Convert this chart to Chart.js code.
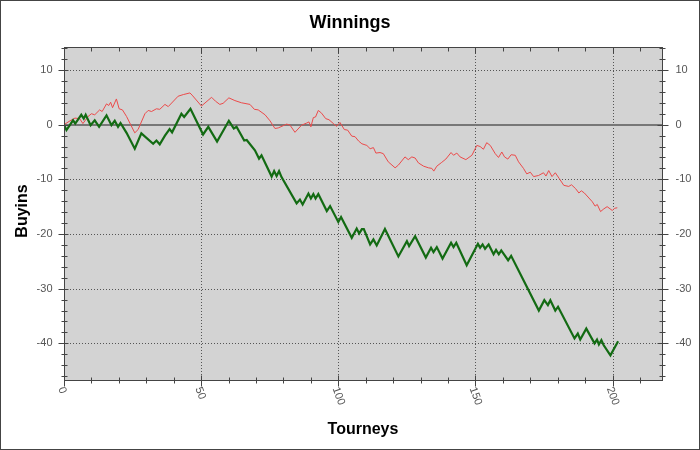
<!DOCTYPE html>
<html>
<head>
<meta charset="utf-8">
<script src="https://cdn.jsdelivr.net/npm/chart.js@4.4.0/dist/chart.umd.min.js"></script>
<style>
  html, body { margin: 0; padding: 0; background: #fff; }
</style>
</head>
<body>
<canvas id="chart" width="700" height="450"></canvas>
<script>
// vertices (tourney, buyins)
const greenTourneys = [0, 0.9, 3.3, 4.1, 6.3, 7.2, 7.9, 9.7, 11.2, 12.8, 15.5, 17.3, 18.5, 19.7, 20.6, 22.8, 25.8, 28.2, 32.5, 33.7, 34.9, 36.8, 38.5, 39.4, 42.8, 43.8, 46.1, 50.7, 52.6, 55.8, 60.1, 61.9, 62.9, 65.7, 66.6, 69.6, 71.1, 72.0, 75.7, 76.6, 77.5, 78.4, 79.3, 84.8, 86.0, 87.0, 89.1, 90.0, 90.9, 91.7, 92.7, 95.8, 97.0, 100.0, 101.0, 104.9, 106.7, 107.6, 108.6, 109.3, 111.6, 112.8, 114.0, 117.0, 121.9, 125.0, 125.8, 128.0, 131.9, 133.8, 134.7, 135.9, 138.0, 141.1, 142.0, 143.0, 146.8, 150.9, 151.7, 152.6, 153.5, 154.8, 156.6, 157.5, 158.5, 159.4, 161.9, 163.0, 173.1, 175.1, 176.4, 177.3, 179.1, 180.1, 186.1, 187.3, 188.2, 190.4, 193.4, 194.3, 195.0, 195.9, 196.7, 199.2, 202.0];
const greenBuyins = [0, -1.0, 0.8, 0.2, 1.8, 1.1, 1.8, -0.1, 0.8, -0.4, 1.7, -0.1, 0.7, -0.4, 0.3, -1.5, -4.4, -1.6, -3.5, -2.9, -3.6, -2.0, -0.8, -1.4, 2.0, 1.4, 2.9, -1.8, -0.4, -3.1, 0.7, -0.7, -0.4, -2.9, -2.8, -4.7, -6.2, -5.6, -9.5, -8.5, -9.4, -8.5, -9.6, -14.4, -13.7, -14.6, -12.6, -13.5, -12.7, -13.5, -12.7, -15.8, -14.9, -17.8, -16.9, -20.7, -19.0, -19.9, -19.1, -19.1, -21.9, -21.0, -22.1, -19.1, -24.1, -21.3, -22.2, -20.4, -24.3, -22.5, -23.3, -22.4, -24.5, -21.6, -22.4, -21.6, -25.7, -21.8, -22.5, -21.9, -22.7, -21.9, -23.7, -22.9, -23.7, -23.0, -24.8, -24.0, -34.0, -32.1, -33.0, -32.1, -34.0, -33.3, -39.1, -38.2, -39.3, -37.3, -40.0, -39.3, -40.2, -39.4, -40.3, -42.2, -39.6];

const redTourneys = [0, 2.2, 4.0, 5.7, 6.9, 8.8, 10.0, 11.2, 13.0, 13.9, 15.5, 16.3, 17.0, 17.7, 19.1, 20.1, 21.3, 22.8, 25.8, 27.0, 29.5, 30.7, 31.9, 33.7, 34.9, 36.8, 38.0, 41.6, 43.5, 45.9, 46.7, 50.1, 53.8, 55.2, 56.8, 58.0, 60.1, 62.3, 64.7, 67.8, 69.4, 70.8, 73.3, 75.1, 76.9, 78.1, 81.2, 82.4, 84.2, 86.6, 88.5, 89.3, 90.0, 90.9, 91.7, 92.7, 93.9, 95.4, 96.6, 98.2, 99.4, 100.6, 102.2, 103.4, 104.9, 106.1, 107.4, 108.6, 110.4, 111.6, 112.8, 113.7, 115.2, 116.4, 118.2, 120.7, 121.9, 124.3, 125.5, 126.8, 128.0, 129.2, 131.1, 132.9, 134.1, 134.8, 135.9, 137.7, 139.2, 141.1, 142.0, 143.2, 144.4, 146.5, 148.7, 150.5, 151.7, 152.9, 154.1, 155.4, 157.2, 158.4, 159.6, 160.6, 161.8, 163.0, 164.5, 165.7, 167.5, 168.7, 170.0, 171.2, 173.0, 174.8, 175.7, 176.7, 177.9, 179.1, 180.6, 182.2, 184.0, 185.0, 186.5, 187.7, 188.6, 189.7, 192.6, 193.6, 194.4, 195.6, 196.8, 198.0, 199.9, 200.7, 201.7];
const redBuyins = [0, 0.7, 1.2, 1.1, 0.2, 1.5, 2.0, 1.8, 2.7, 2.4, 3.8, 3.5, 4.1, 3.1, 4.7, 2.9, 2.7, 1.5, -1.5, -0.9, 2.0, 2.6, 2.4, 2.9, 2.8, 3.7, 3.3, 5.2, 5.5, 5.8, 5.4, 3.4, 5.0, 4.3, 3.7, 3.9, 4.9, 4.4, 4.0, 3.7, 2.8, 2.7, 1.8, 0.7, -0.7, -0.6, 0.1, -0.1, -1.4, -0.1, 0.3, 0.5, -0.4, 1.3, 1.4, 2.6, 2.1, 1.1, 0.9, 0.2, -0.3, 0.4, -0.9, -1.0, -2.1, -2.2, -3.0, -3.5, -3.8, -4.4, -4.2, -5.2, -5.1, -5.3, -6.8, -7.9, -7.4, -5.9, -6.4, -5.9, -6.1, -7.0, -7.6, -7.9, -8.0, -8.5, -7.6, -6.9, -6.3, -5.1, -5.6, -5.2, -5.9, -6.4, -5.6, -3.8, -4.0, -4.5, -3.3, -3.8, -5.3, -6.0, -5.0, -5.9, -6.3, -5.5, -5.6, -6.8, -8.0, -9.0, -8.7, -9.5, -9.3, -8.8, -9.4, -8.4, -9.5, -8.8, -9.9, -11.1, -11.3, -11.0, -11.7, -12.5, -12.1, -12.5, -14.1, -14.9, -14.6, -15.9, -15.4, -15.0, -15.7, -15.3, -15.2];

const xTicks = [0, 50, 100, 150, 200];
const yTicks = [10, 0, -10, -20, -30, -40];

const toPoints = (xs, ys) => xs.map((x, i) => ({ x: x, y: ys[i] }));

const labelFont = '11px "Liberation Sans", Arial, sans-serif';
const titleFont = 'bold 18px "Liberation Sans", Arial, sans-serif';
const axisFont = 'bold 16px "Liberation Sans", Arial, sans-serif';

const decor = {
    id: "decor",
    beforeDraw(chart) {
        const { ctx, chartArea: a } = chart;
        ctx.save();
        ctx.fillStyle = "#fff";
        ctx.fillRect(0, 0, chart.width, chart.height);
        ctx.fillStyle = "#d3d3d3";
        ctx.fillRect(a.left, a.top, a.right - a.left, a.bottom - a.top);
        ctx.restore();
    },
    beforeDatasetsDraw(chart) {
        const { ctx, chartArea: a, scales } = chart;
        ctx.save();
        ctx.strokeStyle = "#555";
        ctx.lineWidth = 1;
        ctx.setLineDash([1, 2]);
        xTicks.forEach(v => {
            if (v === 0) return;
            const px = Math.round(scales.x.getPixelForValue(v)) + 0.5;
            ctx.beginPath();
            ctx.moveTo(px, a.top);
            ctx.lineTo(px, a.bottom);
            ctx.stroke();
        });
        yTicks.forEach(v => {
            if (v === 0) return;
            const py = Math.round(scales.y.getPixelForValue(v)) + 0.5;
            ctx.beginPath();
            ctx.moveTo(a.left, py);
            ctx.lineTo(a.right, py);
            ctx.stroke();
        });
        // zero line
        ctx.setLineDash([]);
        ctx.strokeStyle = "#777";
        ctx.lineWidth = 2;
        const y0 = Math.round(scales.y.getPixelForValue(0));
        ctx.beginPath();
        ctx.moveTo(a.left, y0);
        ctx.lineTo(a.right, y0);
        ctx.stroke();
        ctx.restore();
    },
    afterDraw(chart) {
        const { ctx, chartArea: a, scales } = chart;
        const L = a.left + 0.5, R = Math.round(a.right) + 0.5;
        const T = a.top + 0.5, B = Math.round(a.bottom) + 0.5;
        ctx.save();
        ctx.strokeStyle = "#444";
        ctx.lineWidth = 1;
        ctx.strokeRect(L, T, R - L, B - T);

        // y ticks, every 2 buyins
        ctx.beginPath();
        for (let v = -46; v <= 14; v += 2) {
            const py = Math.round(scales.y.getPixelForValue(v)) + 0.5;
            const major = v % 10 === 0;
            ctx.moveTo(L - (major ? 6 : 3), py);
            ctx.lineTo(L + (major ? 4 : 3), py);
            ctx.moveTo(R - (major ? 5 : 3), py);
            ctx.lineTo(R + (major ? 6 : 3), py);
        }
        // x ticks, every 10 tourneys
        for (let v = 0; v <= 210; v += 10) {
            const px = Math.round(scales.x.getPixelForValue(v)) + 0.5;
            const major = v % 50 === 0;
            ctx.moveTo(px, T);
            ctx.lineTo(px, T + (major ? 6 : 4));
            ctx.moveTo(px, B - (major ? 5 : 3));
            ctx.lineTo(px, B + (major ? 6 : 3));
        }
        ctx.stroke();

        // tick labels
        ctx.fillStyle = "#555";
        ctx.font = labelFont;
        ctx.textBaseline = "middle";
        yTicks.forEach(v => {
            const py = scales.y.getPixelForValue(v);
            ctx.textAlign = "right";
            ctx.fillText(String(v), L - 12, py);
            ctx.textAlign = "left";
            ctx.fillText(String(v), R + 13, py);
        });
        xTicks.forEach(v => {
            const px = scales.x.getPixelForValue(v);
            ctx.save();
            ctx.translate(px - 3, B + 7);
            ctx.rotate(70 * Math.PI / 180);
            ctx.textAlign = "left";
            ctx.fillText(String(v), 0, 0);
            ctx.restore();
        });

        // titles
        ctx.fillStyle = "#000";
        ctx.textBaseline = "alphabetic";
        ctx.textAlign = "center";
        ctx.font = titleFont;
        ctx.fillText("Winnings", 350, 28);
        ctx.font = axisFont;
        ctx.fillText("Tourneys", (a.left + a.right) / 2, 434);
        ctx.save();
        ctx.translate(27, 211);
        ctx.rotate(-Math.PI / 2);
        ctx.fillText("Buyins", 0, 0);
        ctx.restore();

        // outer frame
        ctx.strokeStyle = "#444";
        ctx.strokeRect(0.5, 0.5, chart.width - 1, chart.height - 1);
        ctx.restore();
    }
};

new Chart(document.getElementById("chart"), {
    type: "line",
    data: {
        datasets: [{
            data: toPoints(greenTourneys, greenBuyins),
            borderColor: "#136b13",
            borderWidth: 2.2,
            pointRadius: 0,
            tension: 0
        }, {
            data: toPoints(redTourneys, redBuyins),
            borderColor: "#ec4a4a",
            borderWidth: 1,
            pointRadius: 0,
            tension: 0
        }]
    },
    options: {
        responsive: false,
        animation: false,
        devicePixelRatio: 1,
        layout: { padding: { left: 64, right: 38, top: 47, bottom: 70 } },
        plugins: {
            legend: { display: false },
            tooltip: { enabled: false }
        },
        scales: {
            x: { type: "linear", display: false, min: 0, max: 218 },
            y: { display: false, min: -46.7, max: 14.2 }
        }
    },
    plugins: [decor]
});
</script>
</body>
</html>
